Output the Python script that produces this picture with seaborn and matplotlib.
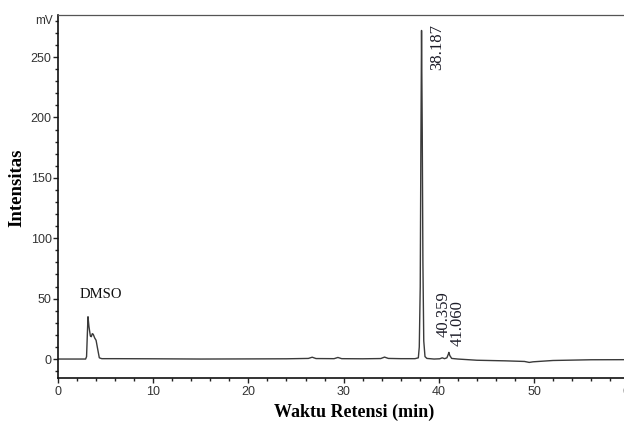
import matplotlib
matplotlib.use("Agg")
import matplotlib.pyplot as plt
from matplotlib.ticker import MultipleLocator
import seaborn as sns
import pandas as pd

# Retention time (min) and intensity (mV)
time_min = [0.0, 2.9, 3.0, 3.08, 3.15, 3.25, 3.4, 3.5, 3.6, 3.7, 3.85, 4.0, 4.15, 4.34, 4.6,
            6.0, 10.0, 15.0, 20.0, 24.0, 26.3, 26.7, 27.1, 29.0, 29.4, 29.8, 32.0, 33.9, 34.3, 34.7,
            36.0, 37.5, 37.85, 37.95, 38.05, 38.12, 38.187, 38.26, 38.33, 38.42, 38.55, 38.75,
            39.5, 40.1, 40.359, 40.6, 40.85, 41.0, 41.06, 41.15, 41.35, 42.0, 44.0,
            47.0, 49.0, 49.5, 49.9, 52.0, 56.0, 61.0]
intensity_mv = [0.0, 0.0, 2.0, 20.0, 35.0, 27.0, 19.0, 18.5, 21.0, 20.5, 17.5, 15.5, 9.0, 1.0, 0.3,
                0.3, 0.2, 0.0, 0.1, 0.2, 0.5, 1.5, 0.4, 0.3, 1.3, 0.3, 0.2, 0.4, 1.6, 0.5,
                0.3, 0.3, 1.0, 10.0, 60.0, 180.0, 272.0, 190.0, 80.0, 15.0, 2.0, 0.5,
                0.0, 0.2, 1.0, 0.3, 1.0, 4.0, 5.5, 3.0, 0.5, 0.0, -1.0,
                -1.5, -2.0, -2.8, -2.3, -1.2, -0.6, -0.5]

peak_labels = ["38.187", "40.359", "41.060"]
peak_label_x = [39.8, 40.5, 42.0]
peak_label_top = [277.0, 56.0, 49.0]

x_label = "Waktu Retensi (min)"
y_label = "Intensitas"
solvent_label = "DMSO"

df = pd.DataFrame({"t": time_min, "mv": intensity_mv})

sns.set_style("white")
plt.rcParams["font.family"] = ["Liberation Sans", "DejaVu Sans"]

W, H = 624, 423
fig = plt.figure(figsize=(W / 100, H / 100), dpi=100)
x0, x1 = 58, 58 + 9.52 * 61
y_top, y_bot = 15, 378
ax = fig.add_axes([x0 / W, 1 - y_bot / H, (x1 - x0) / W, (y_bot - y_top) / H])

sns.lineplot(data=df, x="t", y="mv", ax=ax, color="#3a3a3a", linewidth=1.0,
             estimator=None, sort=False)

ax.set_xlim(0, 61)
ax.set_ylim(-15.7, 284.8)
ax.xaxis.set_major_locator(MultipleLocator(10))
ax.xaxis.set_minor_locator(MultipleLocator(2))
ax.yaxis.set_minor_locator(MultipleLocator(10))
ax.set_yticks([0, 50, 100, 150, 200, 250])

ax.tick_params(axis="both", which="major", direction="out", length=3.8, width=1,
               labelsize=9, labelcolor="#333333", color="#222222", pad=0.8)
ax.tick_params(axis="x", which="major", pad=2.2)
ax.tick_params(axis="both", which="minor", direction="out", length=2.3, width=1,
               color="#222222")
ax.tick_params(axis="y", which="both", left=True)
ax.tick_params(axis="x", which="both", bottom=True)

for s in ["left", "bottom"]:
    ax.spines[s].set_color("#111111")
    ax.spines[s].set_linewidth(1.2)
ax.spines["top"].set_color("#555555")
ax.spines["top"].set_linewidth(0.9)
ax.spines["right"].set_visible(False)

ax.text(-0.5, 280, "mV", ha="right", va="center", fontsize=8.5, color="#333333",
        clip_on=False)

ax.set_xlabel(x_label, family="Liberation Serif", fontweight="bold", fontsize=13,
              color="black")
ax.xaxis.set_label_coords((354 - x0) / (x1 - x0), -(404 - y_bot) / (y_bot - y_top))
ax.set_ylabel(y_label, family="Liberation Serif", fontweight="bold", fontsize=13.5,
              color="black")
ax.yaxis.set_label_coords(-(58 - 25) / (x1 - x0), (y_bot - 188) / (y_bot - y_top))

ax.text(4.5, 48, solvent_label, family="Liberation Serif", fontsize=10.5,
        color="#111111", ha="center", va="bottom")

for lab, px, top in zip(peak_labels, peak_label_x, peak_label_top):
    ax.text(px, top, lab, family="Liberation Serif", fontsize=12,
            color="#1c1c28", rotation=90, ha="center", va="top")

fig.savefig("out.png", dpi=100)
